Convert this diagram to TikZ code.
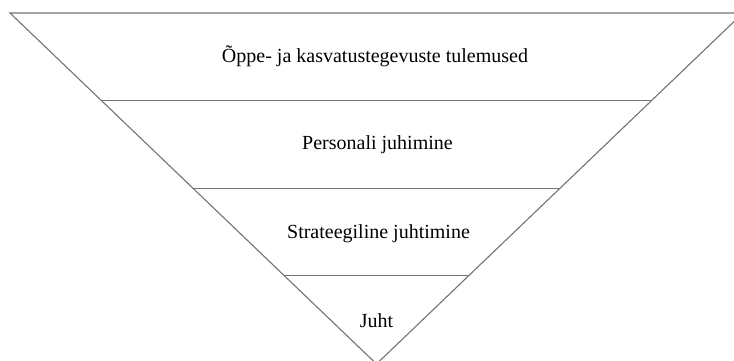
\documentclass[tikz,border=0pt]{standalone}
\usepackage{fontspec}
\setmainfont{Liberation Serif}
\usetikzlibrary{calc}
\begin{document}
\begin{tikzpicture}[x=1pt,y=-1pt, line width=1.1pt,
 edge/.style={draw=black!55},
 level/.style={font=\fontsize{20}{24}\selectfont, inner sep=0pt, anchor=base}]
\useasboundingbox (0,0) rectangle (734,360);
\coordinate (tl) at (10,13);
\coordinate (tr) at (743,13);
\coordinate (ap) at (376.5,364);
\draw[edge] (tl)--(tr)--(ap)--cycle;
\foreach \n/\f in {a/.248,b/.499,c/.749}
 \draw[edge] ($(tl)!\f!(ap)$) coordinate (l\n) -- ($(tr)!\f!(ap)$) coordinate (r\n);
\foreach \n/\x/\y/\t in {res/375/62/{Õppe- ja kasvatustegevuste tulemused},
 pers/377.5/149/{Personali juhimine},strat/378.5/238.5/{Strateegiline juhtimine},
 juht/376.5/327/{Juht}}
 \node[level] (\n) at (\x,\y) {\t};
\end{tikzpicture}
\end{document}
